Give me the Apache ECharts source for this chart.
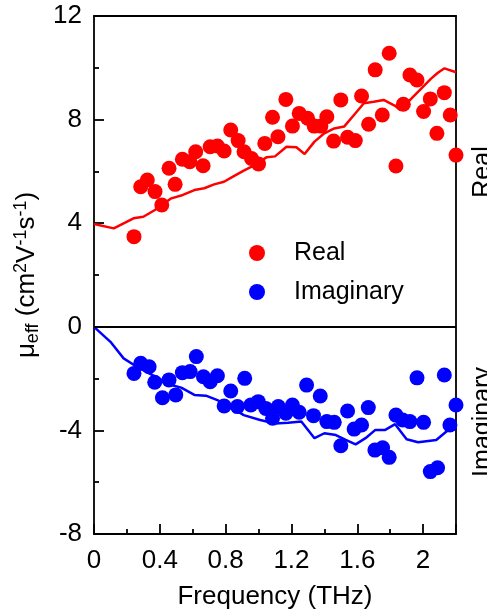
<!DOCTYPE html>
<html><head><meta charset="utf-8">
<script src="https://cdn.jsdelivr.net/npm/echarts@6/dist/echarts.min.js"></script>
<style>html,body{margin:0;padding:0;background:#fff}#c{width:487px;height:611px}</style>
</head><body><div id="c"></div>
<script>
// ---- data ----
const realFreq = [0.243,0.284,0.324,0.371,0.412,0.456,0.493,0.537,0.582,0.618,0.663,0.706,0.750,0.791,0.831,0.876,0.912,0.957,1.000,1.038,1.085,1.118,1.166,1.206,1.247,1.298,1.338,1.379,1.415,1.456,1.500,1.541,1.588,1.626,1.669,1.709,1.752,1.794,1.835,1.880,1.920,1.963,2.003,2.044,2.084,2.129,2.165,2.200];
const realVal  = [3.48,5.41,5.67,5.22,4.70,6.12,5.50,6.47,6.37,6.76,6.22,6.95,6.98,6.79,7.60,7.19,6.76,6.50,6.29,7.08,8.09,7.34,8.78,7.75,8.24,8.05,7.75,7.75,8.11,7.17,8.76,7.32,7.19,8.91,7.82,9.92,8.18,10.56,6.21,8.59,9.72,9.53,8.31,8.80,7.47,9.04,8.18,6.63];

const imagFreq = [0.243,0.284,0.335,0.369,0.416,0.456,0.497,0.537,0.584,0.622,0.665,0.706,0.750,0.791,0.831,0.872,0.916,0.953,0.998,1.044,1.085,1.120,1.166,1.206,1.247,1.292,1.334,1.375,1.415,1.460,1.500,1.541,1.581,1.626,1.667,1.707,1.754,1.794,1.835,1.876,1.920,1.963,2.003,2.044,2.088,2.129,2.163,2.200];
const imagVal  = [-1.80,-1.41,-1.54,-2.14,-2.74,-2.05,-2.63,-1.77,-1.73,-1.15,-1.93,-2.12,-1.89,-3.06,-2.48,-3.08,-1.99,-3.02,-2.89,-3.15,-3.53,-3.08,-3.34,-3.02,-3.30,-2.25,-3.43,-2.67,-3.66,-3.69,-4.59,-3.25,-3.95,-3.79,-3.12,-4.76,-4.67,-5.04,-3.41,-3.60,-3.66,-1.97,-3.69,-5.59,-5.44,-1.86,-3.79,-3.02];

const realFitFreq = [0,0.12,0.24,0.30,0.37,0.47,0.54,0.61,0.67,0.73,0.79,0.85,0.91,0.97,1.05,1.10,1.17,1.23,1.28,1.34,1.40,1.46,1.52,1.58,1.64,1.70,1.76,1.83,1.86,1.93,1.99,2.05,2.09,2.13,2.20];
const realFitVal  = [3.97,3.80,4.19,4.25,4.51,4.96,5.09,5.28,5.35,5.50,5.60,5.82,6.03,6.22,6.55,6.58,6.95,6.93,6.67,7.15,7.47,7.66,7.73,8.18,8.63,8.69,8.76,8.53,8.37,8.82,9.21,9.59,9.81,9.98,9.83];

const imagFitFreq = [0,0.10,0.18,0.26,0.35,0.47,0.53,0.61,0.68,0.75,0.81,0.91,1.01,1.10,1.18,1.26,1.34,1.40,1.47,1.53,1.59,1.65,1.71,1.77,1.83,1.90,1.97,2.08,2.14,2.20];
const imagFitVal  = [0,-0.58,-1.22,-1.54,-1.85,-2.25,-2.35,-2.63,-2.66,-2.83,-3.02,-3.41,-3.60,-3.73,-3.70,-3.66,-4.30,-4.11,-4.18,-4.37,-4.54,-4.30,-3.98,-3.98,-3.76,-4.34,-4.46,-4.37,-4.05,-3.86];

const xMin = 0, xMax = 2.2, xStep = 0.4;
const yMin = -8, yMax = 12, yStep = 4;
const seriesNames = ['Real', 'Imaginary'];
const xTitle = 'Frequency (THz)';

// ---- build ----
const zip = (a, b) => a.map((v, i) => [v, b[i]]);
const FONT = '"Liberation Sans", Arial, sans-serif';
const RED = '#ff0000', BLUE = '#0000ff';
const lineBlack = {color: '#000', width: 1.8};

const chart = echarts.init(document.getElementById('c'));
chart.setOption({
  animation: false,
  backgroundColor: '#fff',
  grid: {left: 94, right: 31, top: 16, bottom: 77, containLabel: false, outerBoundsMode: 'none'},
  xAxis: [{
    type: 'value', min: xMin, max: xMax, interval: xStep, position: 'bottom',
    axisLine: {show: true, onZero: false, lineStyle: lineBlack},
    axisTick: {show: true, inside: true, length: 10, lineStyle: lineBlack},
    minorTick: {show: true, splitNumber: 2, length: 5, lineStyle: lineBlack},
    splitLine: {show: false},
    axisLabel: {color: '#000', fontSize: 26, fontFamily: FONT, margin: 14, showMaxLabel: false},
    name: xTitle, nameLocation: 'middle', nameGap: 50,
    nameTextStyle: {color: '#000', fontSize: 26, fontFamily: FONT}
  }, {
    type: 'value', min: xMin, max: xMax, position: 'top',
    axisLine: {show: true, onZero: false, lineStyle: lineBlack},
    axisTick: {show: false}, axisLabel: {show: false}, splitLine: {show: false}
  }],
  yAxis: [{
    type: 'value', min: yMin, max: yMax, interval: yStep, position: 'left',
    axisLine: {show: true, onZero: false, lineStyle: lineBlack},
    axisTick: {show: true, inside: true, length: 10, lineStyle: lineBlack},
    minorTick: {show: true, splitNumber: 2, length: 5, lineStyle: lineBlack},
    splitLine: {show: false},
    axisLabel: {color: '#000', fontSize: 26, fontFamily: FONT, margin: 12},
    name: '{a|μ}{b|eff}{a| (cm}{c|2}{a|V}{c|-1}{a|s}{c|-1}{a|)}',
    nameLocation: 'middle', nameGap: 34,
    nameTextStyle: {
      color: '#000', fontFamily: FONT,
      rich: {
        a: {fontSize: 26, lineHeight: 30, fontFamily: FONT, color: '#000', verticalAlign: 'middle'},
        b: {fontSize: 18, lineHeight: 18, fontFamily: FONT, color: '#000', verticalAlign: 'bottom'},
        c: {fontSize: 18, lineHeight: 18, fontFamily: FONT, color: '#000', verticalAlign: 'top'}
      }
    }
  }, {
    type: 'value', min: yMin, max: yMax, position: 'right',
    axisLine: {show: true, onZero: false, lineStyle: lineBlack},
    axisTick: {show: false}, axisLabel: {show: false}, splitLine: {show: false}
  }],
  legend: {
    orient: 'vertical', left: 244, top: 235, itemWidth: 16, itemHeight: 16, itemGap: 13,
    icon: 'circle', data: seriesNames,
    textStyle: {color: '#000', fontSize: 25, fontFamily: FONT, lineHeight: 26, padding: [0, 0, 0, 24]}
  },
  graphic: [
    {type: 'text', x: 483, y: 172, rotation: Math.PI / 2, silent: true,
     style: {text: 'Real', fontSize: 25, fontFamily: FONT, fill: '#000', align: 'center', verticalAlign: 'middle'}},
    {type: 'text', x: 483, y: 422, rotation: Math.PI / 2, silent: true,
     style: {text: 'Imaginary', fontSize: 25, fontFamily: FONT, fill: '#000', align: 'center', verticalAlign: 'middle'}}
  ],
  series: [
    {type: 'line', name: 'RealFit', data: zip(realFitFreq, realFitVal), symbol: 'none',
     lineStyle: {color: RED, width: 2.5}, itemStyle: {color: RED}, z: 2,
     markLine: {silent: true, symbol: ['none', 'none'], label: {show: false},
       lineStyle: {color: '#000', type: 'solid', width: 1.8}, data: [{yAxis: 0}]}},
    {type: 'line', name: 'ImagFit', data: zip(imagFitFreq, imagFitVal), symbol: 'none',
     lineStyle: {color: BLUE, width: 2.5}, itemStyle: {color: BLUE}, z: 2},
    {type: 'scatter', name: seriesNames[0], data: zip(realFreq, realVal), symbolSize: 15,
     itemStyle: {color: RED, opacity: 1}, z: 3},
    {type: 'scatter', name: seriesNames[1], data: zip(imagFreq, imagVal), symbolSize: 15,
     itemStyle: {color: BLUE, opacity: 1}, z: 3}
  ]
});
</script>
</body></html>
